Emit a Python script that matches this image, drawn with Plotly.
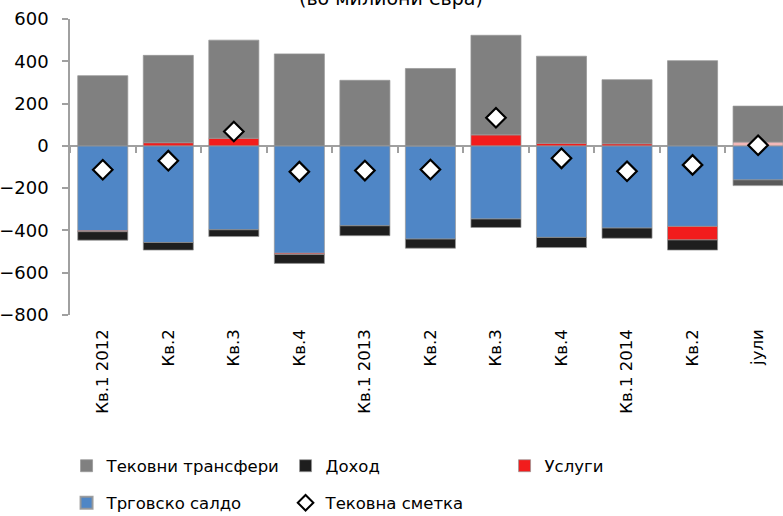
import plotly.graph_objects as go

categories = ["Кв.1 2012", "Кв.2", "Кв.3", "Кв.4", "Кв.1 2013", "Кв.2", "Кв.3", "Кв.4",
              "Кв.1 2014", "Кв.2", "јули"]
trade = [-402, -457, -397, -508, -378, -441, -346, -433, -389, -381, -161]
services = [-4, 15, 36, -6, 2, 0, 52, 12, 10, -64, 18]
income = [-40, -36, -32, -42, -47, -43, -40, -48, -48, -48, -27]
transfers = [332, 413, 464, 435, 308, 366, 471, 412, 303, 403, 170]
current_account = [-113, -70, 68, -122, -117, -112, 133, -59, -120, -90, 3]

names = {
    "transfers": "Тековни трансфери",
    "income": "Доход",
    "services": "Услуги",
    "trade": "Трговско салдо",
    "ca": "Тековна сметка",
}
title_text = "(во милиони евра)"

FONT = "DejaVu Sans"
n = len(categories)
x = list(range(n))
boundaries = [i - 0.5 for i in range(n + 1)]

grey = "#808080"
blue = "#4f86c6"
red_cols = ["#f21c1c"] * (n - 1) + ["#f4b8b8"]
inc_cols = ["#1e1e1e"] * (n - 1) + ["#5a5a5a"]
edge = "rgba(150,150,150,0.9)"
axis_col = "#a0a0a0"

fig = go.Figure()
fig.add_trace(go.Bar(x=x, y=trade, name=names["trade"], marker=dict(color=blue, line=dict(color=edge, width=0.8)),
                     legend="legend2", legendrank=4))
fig.add_trace(go.Bar(x=x, y=services, name=names["services"], marker=dict(color=red_cols, line=dict(color=edge, width=0.8)),
                     legend="legend", legendrank=3))
fig.add_trace(go.Bar(x=x, y=income, name=names["income"], marker=dict(color=inc_cols, line=dict(color=edge, width=0.8)),
                     legend="legend", legendrank=2))
fig.add_trace(go.Bar(x=x, y=transfers, name=names["transfers"], marker=dict(color=grey, line=dict(color=edge, width=0.8)),
                     legend="legend", legendrank=1))
fig.add_trace(go.Scatter(x=x, y=current_account, name=names["ca"], mode="markers", xaxis="x2",
                         marker=dict(symbol="diamond", size=15, color="white", line=dict(color="black", width=2.2)),
                         legend="legend2", legendrank=5))

xrange = [-0.5, n - 0.62]

fig.update_layout(
    width=783, height=516,
    margin=dict(l=70, r=0, t=19, b=201),
    paper_bgcolor="white", plot_bgcolor="white",
    barmode="relative", bargap=0.236,
    font=dict(family=FONT, color="black"),
    showlegend=True,
    # main x axis: sits on the zero line, ticks at category boundaries
    xaxis=dict(range=xrange, anchor="free", position=800 / 1400, layer="below traces",
               tickmode="array", tickvals=boundaries, showticklabels=False,
               ticks="outside", ticklen=6, tickcolor=axis_col, tickwidth=1.5,
               showline=True, linecolor=axis_col, linewidth=1.5,
               showgrid=False, zeroline=False),
    # overlay x axis: category labels at the bottom
    xaxis2=dict(overlaying="x", anchor="y", side="bottom", range=xrange,
                tickmode="array", tickvals=x, ticktext=categories, tickangle=-90,
                showline=False, ticks="", showgrid=False, zeroline=False,
                tickfont=dict(size=16.5, family=FONT), ticklabelstandoff=10),
    yaxis=dict(range=[-800, 600], dtick=200, showgrid=False, zeroline=False,
               showline=True, linecolor=axis_col, linewidth=1.5,
               ticks="outside", ticklen=6, tickcolor=axis_col, tickwidth=1.5,
               tickfont=dict(size=18, family=FONT), ticklabelstandoff=10),
    legend=dict(orientation="h", xref="container", yref="container", x=0.085, y=1 - 466 / 516,
                xanchor="left", yanchor="middle", entrywidth=174, traceorder="normal",
                font=dict(size=16.5, family=FONT), bgcolor="rgba(0,0,0,0)"),
    legend2=dict(orientation="h", xref="container", yref="container", x=0.085, y=1 - 503 / 516,
                 xanchor="left", yanchor="middle", entrywidth=174, traceorder="normal",
                 itemsizing="constant",
                 font=dict(size=16.5, family=FONT), bgcolor="rgba(0,0,0,0)"),
    annotations=[dict(text=title_text, xref="paper", yref="paper", x=0.45, y=1 + 8 / 296,
                      xanchor="center", yanchor="bottom", showarrow=False,
                      font=dict(size=19, family=FONT, color="black"))],
)

fig.write_html("out.html")
